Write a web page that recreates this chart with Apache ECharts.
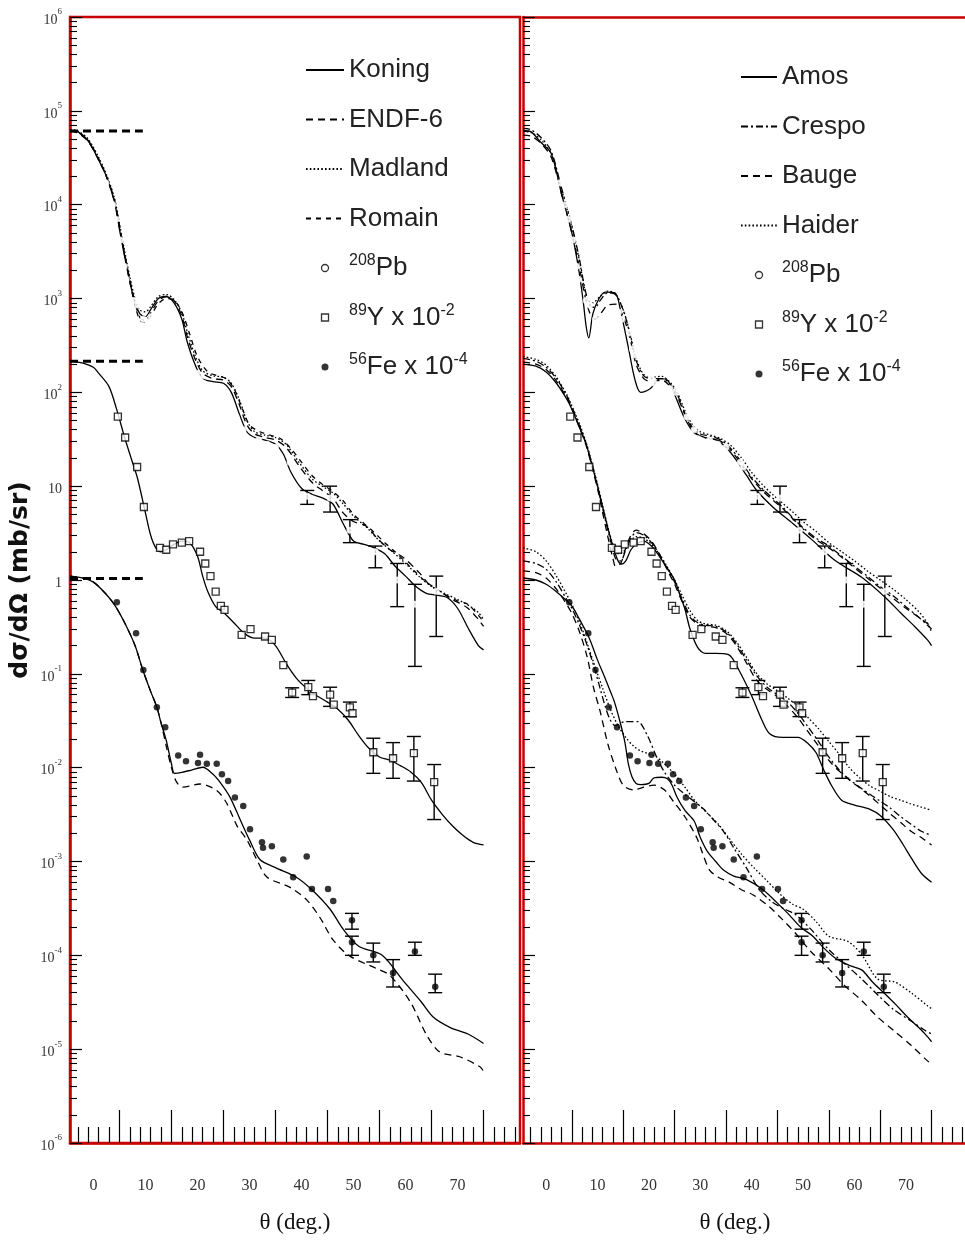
<!DOCTYPE html>
<html><head><meta charset="utf-8">
<script src="https://cdn.jsdelivr.net/npm/echarts@6/dist/echarts.min.js"></script>
<style>html,body{margin:0;padding:0;background:#fff}#c{width:965px;height:1240px}</style>
</head><body><div id="c"></div>
<script>
// ---------- tick / label values ----------
const thetaLabels = [0,10,20,30,40,50,60,70];
const thetaMajorTicks = [5,15,25,35,45,55,65,75];
const thetaMinorTicks = [-3,-1,1,3,7,9,11,13,17,19,21,23,27,29,31,33,37,39,41,43,47,49,51,53,57,59,61,63,67,69,71,73,77,79,81];
const decadeExponents = [-6,-5,-4,-3,-2,-1,0,1,2,3,4,5,6];

// ---------- LEFT PANEL: 208Pb curves ----------
const pbKoning = [[-4.5,6.2e4],[-3,6.0e4],[-1,4.8e4],[1,3.0e4],[2.5,2.0e4],[4,1.1e4],[5,5.5e3],[6,2.8e3],[7,1.5e3],[8,900],[9,680],[10,640],[11,760],[12.5,1000],[14,1050],[15.5,900],[17,600],[18,350],[19.5,200],[21,140],[23,130],[25,125],[26.5,100],[28,60],[29.5,38],[31,33],[33,31],[35,28],[36.5,22],[38,14],[40,9.5],[42,8.2],[44,7.5],[46,6.5],[48,4],[50,2.6],[52,2.4],[54,2.2],[56,1.9],[58,1.4],[60,1.1],[62,0.85],[64,0.72],[66,0.69],[68,0.65],[70,0.5],[72,0.31],[74,0.2],[75,0.18]];
const pbEndf = [[-4.5,6.0e4],[-3,5.8e4],[-1,4.7e4],[1,3.0e4],[2.5,2.0e4],[4,1.15e4],[5,6.0e3],[6,3.0e3],[7,1.6e3],[8,900],[9,620],[10,580],[11,700],[12.5,950],[14,1050],[15.5,950],[17,650],[18,400],[19.5,230],[21,160],[23,140],[25,135],[26.5,115],[28,75],[29.5,45],[31,36],[33,33],[35,31],[37,26],[39.7,16],[42,11],[44,9],[46,7.5],[48,5.2],[50,4.2],[52.6,3.7],[54.5,2.8],[57,2.1],[59.5,1.75],[62.8,1.17],[64.5,0.9],[66.6,0.75],[69,0.62],[71.8,0.51],[74,0.38],[75,0.32]];
const pbMadland = [[-4.5,6.3e4],[-3,6.1e4],[-1,5.0e4],[1,3.2e4],[2.5,2.1e4],[4,1.2e4],[5,6.3e3],[6,3.2e3],[7,1.7e3],[8,1000],[9,750],[10,720],[11,820],[12.5,1050],[14,1100],[15.5,980],[17,700],[18,450],[19.5,250],[21,170],[23,150],[25,145],[26.5,125],[28,85],[29.5,50],[31,38],[33,35],[35,33],[37,28],[39.5,18],[42,12],[44,10],[46,8.5],[48,6.5],[50,4.8],[52.6,3.6],[55,2.6],[57.5,2.0],[60,1.5],[62.5,1.1],[65,0.85],[67.5,0.72],[70,0.62],[72.5,0.52],[74,0.45],[75,0.38]];
const pbRomain = [[-4.5,6.1e4],[-3,5.9e4],[-1,4.8e4],[1,3.1e4],[2.5,2.0e4],[4,1.1e4],[5,5.7e3],[6,2.9e3],[7,1.5e3],[8,850],[9,580],[10,560],[11,650],[12.5,880],[14,1000],[15.5,960],[17,720],[18.5,420],[20,240],[22,165],[24,150],[25.5,140],[27,110],[28.5,70],[30,45],[32,38],[34,35],[36,32],[38,25],[40,18],[42,13],[44,10.5],[46,8.8],[48,7.0],[50,5.0],[52,4.0],[54,3.2],[56,2.5],[58,2.0],[60,1.55],[62,1.2],[64,0.95],[66,0.8],[68,0.68],[70,0.6],[72,0.55],[74,0.42],[75,0.36]];
// LEFT: 89Y x 1e-2 and 56Fe x 1e-4 curves
const yKoning = [[-4.5,215],[-2,205],[0,185],[1,160],[3,115],[4.5,65],[6,33],[7.5,18],[8.5,12],[10,5.2],[11,3.0],[12,2.2],[13,2.0],[14,2.1],[15.5,2.4],[17,2.6],[18.5,2.5],[20,1.8],[21,1.1],[22,0.75],[23.5,0.52],[25,0.45],[27,0.35],[29,0.27],[31,0.24],[33,0.24],[35,0.2],[37,0.13],[39,0.09],[41,0.07],[43,0.058],[45,0.05],[47,0.042],[49,0.032],[51,0.022],[53,0.016],[55,0.013],[57,0.012],[59,0.0105],[61,0.009],[63,0.007],[65,0.0045],[67,0.0032],[69,0.0024],[71,0.0019],[73,0.0016],[75,0.0015]];
const feKoning = [[-4.5,1.1],[-2,1.05],[0,0.95],[2,0.75],[4,0.55],[6,0.35],[8,0.2],[9.5,0.11],[11,0.065],[12.2,0.044],[13,0.03],[14,0.0195],[15,0.011],[15.6,0.0087],[17,0.0089],[19,0.0095],[21,0.0101],[23,0.0085],[24.5,0.0068],[26.3,0.0048],[28.2,0.0028],[30,0.0017],[32,0.00105],[35,0.00086],[39,0.00068],[42,0.0005],[45.5,0.00031],[48,0.00019],[51,0.000125],[55.5,0.0001],[59.5,0.000054],[63,0.000032],[65.3,0.000022],[68.6,0.000017],[72,0.0000145],[75,0.0000115]];
const feEndf = [[-4.5,1.1],[-2,1.05],[0,0.95],[2,0.75],[4,0.55],[6,0.35],[8,0.2],[9.5,0.11],[11,0.065],[12.2,0.044],[13,0.03],[14,0.017],[15,0.01],[16,0.007],[17.2,0.0062],[20.5,0.0067],[23.7,0.0057],[25.6,0.0042],[27.6,0.0024],[29.5,0.0017],[31.4,0.00105],[33.4,0.00068],[37.8,0.00053],[41,0.00039],[43.6,0.00025],[46.1,0.000145],[49.3,0.000098],[54.5,0.000072],[57,0.000061],[60.9,0.000032],[64.1,0.000014],[66.6,0.0000093],[70.4,0.0000083],[74.3,0.0000065],[75,0.0000058]];
// LEFT: reference levels (thick dashes)
const levelPb = [[-4.5,6.1e4],[9.5,6.1e4]];
const levelY = [[-4.5,215],[9.5,215]];
const levelFe = [[-4.5,1.04],[9.5,1.04]];

// ---------- RIGHT PANEL curves ----------
const pbAmos = [[-4.5,6.2e4],[-3,6.0e4],[-1,4.6e4],[1,3.5e4],[3,1.3e4],[5,5e3],[6.3,2.1e3],[7.2,950],[7.8,500],[8.3,380],[9.1,690],[10.3,1000],[11.5,1170],[13.4,1150],[14.6,690],[16,300],[17.3,135],[18.4,100],[20.3,110],[22.2,140],[23.6,135],[24.9,98],[26.8,55],[28.8,37],[31,33],[33.2,31],[35,26],[37,19],[39,13],[40.9,9.1],[44.1,6],[48,4],[51.8,2.66],[56.3,1.6],[61.4,1.07],[65.9,0.66],[69.1,0.44],[71.7,0.32],[74.2,0.23],[75,0.2]];
const pbCrespo = [[-4.5,6.5e4],[-3,6.3e4],[-1,5.2e4],[1,3.7e4],[3,1.5e4],[5,6.0e3],[6.5,2.6e3],[7.5,1.3e3],[8.5,850],[9.5,800],[10.5,950],[12,1150],[13.5,1100],[15,750],[16.3,420],[17.5,220],[19,150],[20.5,140],[22.5,140],[24,125],[25.5,95],[27,60],[28.5,42],[30,36],[32,34],[34,31],[36,25],[38,18],[40,12.5],[42,9.5],[44,7.5],[46,6],[48,4.6],[50,3.6],[52.5,2.8],[55,2.3],[57.5,1.8],[60,1.4],[62.5,1.1],[65,0.85],[67.5,0.68],[70,0.52],[72.5,0.4],[75,0.3]];
const pbBauge = [[-4.5,5.5e4],[-3,5.4e4],[-1,4.5e4],[1,3.2e4],[3,1.3e4],[5,5.0e3],[6.5,2.1e3],[7.5,1.1e3],[8.5,700],[9.5,600],[10.5,680],[12,850],[13.5,870],[15,640],[16.3,380],[17.5,200],[19,140],[20.5,130],[22.5,135],[24,118],[25.5,90],[27,58],[28.5,40],[30,34],[32,32],[34,30],[36,24],[38,17],[40,12],[42,9],[44,7.2],[46,5.8],[48,4.5],[50,3.5],[52.5,2.7],[55,2.2],[57.5,1.75],[60,1.35],[62.5,1.05],[65,0.82],[67.5,0.64],[70,0.5],[72.5,0.4],[75,0.32]];
const pbHaider = [[-4.5,6.0e4],[-3,5.9e4],[-1,4.9e4],[1,3.5e4],[3,1.45e4],[5,5.8e3],[6.5,2.5e3],[7.5,1.25e3],[8.2,950],[9,900],[10.5,1050],[12,1200],[13.5,1120],[15,760],[16.3,430],[17.5,230],[19,155],[20.5,145],[22.5,148],[24,130],[25.5,100],[27,64],[28.5,45],[30,38],[32,35],[34,32],[36,27],[38,20],[40,14],[42,10.5],[44,8.2],[46,6.6],[48,5.3],[50,4.2],[52.5,3.3],[55,2.5],[57.5,2.0],[60,1.6],[62.5,1.25],[65,1.0],[67.5,0.8],[70,0.62],[72.5,0.46],[74,0.36],[75,0.28]];
const yAmos = [[-4.5,200],[-2,190],[0,165],[2,125],[4,85],[5,66],[6.5,42],[7.8,28],[9,16],[10,10],[11,6],[12,3.6],[13,2.3],[14,1.6],[14.7,1.48],[15.5,1.6],[16.5,2.1],[17.5,2.4],[19,2.6],[20.5,2.3],[22,1.8],[23.5,1.35],[25,1.0],[26,0.7],[27,0.49],[28,0.3],[29.5,0.19],[31,0.165],[33,0.165],[35.5,0.16],[37.5,0.11],[40,0.058],[42,0.032],[43.5,0.023],[46,0.021],[49,0.021],[51,0.018],[52.5,0.0145],[54,0.0095],[55.5,0.0065],[57.5,0.0045],[60,0.004],[63,0.0036],[65,0.0031],[67.5,0.0022],[69.5,0.0015],[71,0.0011],[73,0.00075],[75,0.0006]];
const yCrespo = [[-4.5,230],[-2,215],[0,185],[2,140],[4,92],[5,70],[6.5,44],[7.8,28],[9,16.5],[10,10],[11,5.8],[12,3.4],[13,2.1],[13.5,1.7],[14.5,1.6],[15.5,2.1],[16.5,2.8],[17.5,3.2],[19,3.0],[20.5,2.5],[22,1.9],[23.5,1.35],[25,0.95],[26.5,0.62],[28,0.42],[29.5,0.35],[31,0.33],[33,0.32],[35,0.28],[37,0.21],[39,0.14],[41,0.095],[43,0.072],[45,0.06],[47,0.05],[49,0.038],[51,0.027],[53,0.019],[55,0.013],[57,0.0095],[59,0.0075],[61,0.0062],[63,0.0052],[65,0.0044],[67,0.0037],[69,0.003],[71,0.0025],[73,0.0021],[75,0.0019]];
const yBauge = [[-4.5,210],[-2,200],[0,175],[2,132],[4,88],[5,68],[6.5,42],[7.8,27],[9,15.5],[10,9.4],[11,5.2],[12,2.9],[13,1.7],[13.5,1.4],[14.5,1.5],[15.5,2.2],[16.5,3.0],[17.5,3.4],[19,3.1],[20.5,2.6],[22,1.9],[23.5,1.3],[25,0.9],[26.5,0.58],[28,0.4],[29.5,0.34],[31,0.32],[33,0.31],[35,0.27],[37,0.2],[39,0.13],[41,0.085],[43,0.068],[45,0.057],[47,0.045],[49,0.034],[51,0.024],[53,0.017],[55,0.012],[57,0.0092],[59,0.0074],[61,0.0061],[63,0.005],[65,0.004],[67,0.0032],[69,0.0026],[71,0.0021],[73,0.0018],[75,0.0015]];
const yHaider = [[-4.5,240],[-2,225],[0,195],[2,145],[4,95],[5,72],[6.5,46],[7.8,29],[9,17],[10,10.5],[11,6.2],[12,3.7],[13,2.4],[14,1.9],[15,2.0],[16,2.4],[17.5,2.9],[19,2.8],[20.5,2.4],[22,1.9],[23.5,1.4],[25,1.0],[26.5,0.68],[28,0.47],[29.5,0.37],[31,0.34],[33,0.33],[35,0.29],[37,0.22],[39,0.15],[41,0.1],[43,0.078],[45,0.066],[47,0.055],[49,0.045],[51,0.034],[53,0.026],[55,0.019],[57,0.014],[59,0.01],[61,0.0078],[63,0.0064],[65,0.0056],[67,0.0049],[69,0.0045],[71,0.0041],[73,0.0038],[75,0.0035]];
const feAmos = [[-4.5,1.05],[-2,1.0],[0,0.9],[2,0.75],[4,0.6],[5.1,0.52],[6.5,0.38],[8.4,0.24],[10,0.14],[11.3,0.095],[12.5,0.065],[13.3,0.05],[14.3,0.032],[15.3,0.019],[16,0.011],[16.7,0.008],[17.5,0.0068],[18.5,0.0066],[20,0.0068],[21,0.0078],[22.5,0.0079],[23.6,0.0076],[24.5,0.0065],[25.5,0.0048],[27,0.0035],[28.8,0.0027],[30,0.0018],[31.3,0.0013],[33,0.001],[34.5,0.00081],[36.5,0.0007],[39,0.00064],[42.2,0.0005],[45,0.00036],[47.3,0.00027],[49.5,0.0002],[51.9,0.00016],[54,0.00012],[56.3,0.000093],[59,0.000078],[61.4,0.00007],[63.5,0.000052],[65.9,0.000039],[68,0.00003],[70.3,0.000022],[72.5,0.000017],[74.2,0.0000136],[75,0.000012]];
const feCrespo = [[-4.5,1.6],[-2,1.5],[0,1.3],[2,0.95],[4,0.62],[5,0.5],[6.5,0.33],[8,0.2],[9.5,0.11],[10.5,0.07],[11.5,0.045],[12.5,0.032],[13.5,0.028],[15.3,0.031],[17.8,0.031],[19.7,0.022],[21.5,0.013],[23,0.009],[25,0.0065],[27,0.0052],[29,0.0043],[30.7,0.0036],[32.5,0.0028],[34.5,0.0021],[36.5,0.0014],[39,0.00085],[41.5,0.0005],[44,0.00037],[46.5,0.00031],[48.6,0.00027],[51.5,0.00019],[55,0.000115],[58,0.000082],[61.4,0.000056],[64.5,0.000038],[67.8,0.000026],[71,0.00002],[73.6,0.000016],[75,0.0000145]];
const feBauge = [[-4.5,1.25],[-2,1.2],[0,1.05],[2,0.8],[4,0.55],[5,0.44],[6.5,0.28],[8,0.15],[9.2,0.072],[10.5,0.04],[12,0.018],[13.5,0.01],[15,0.0065],[17,0.0058],[19,0.0062],[21,0.0065],[23,0.0058],[25,0.0042],[27,0.003],[29.3,0.0018],[30.5,0.0012],[31.8,0.00081],[33.5,0.00068],[35.7,0.0006],[38,0.0005],[40.3,0.00044],[43.4,0.00033],[46,0.00024],[48.6,0.00017],[51.5,0.00011],[55,0.000072],[58,0.000048],[61.4,0.000033],[64.5,0.000022],[67.8,0.0000155],[71,0.000011],[74.2,0.0000075],[75,0.000007]];
const feHaider = [[-4.5,2.2],[-2,2.0],[0,1.6],[2,1.1],[4,0.7],[5,0.55],[6.5,0.36],[8,0.21],[9.5,0.12],[11,0.07],[12.5,0.042],[14,0.028],[15.5,0.021],[17,0.017],[18.5,0.015],[20,0.014],[21.5,0.013],[23,0.011],[25,0.0085],[27,0.0062],[29,0.0044],[31.3,0.0033],[33.5,0.0025],[35.5,0.0018],[38,0.0012],[40.5,0.00085],[43,0.00062],[45.5,0.00045],[48,0.00035],[50,0.00031],[52.5,0.00023],[55,0.00016],[58.8,0.00014],[61.5,0.0001],[64.5,0.000056],[67.8,0.000052],[71,0.00004],[74.2,0.000029],[75,0.000027]];

// ---------- experimental data [theta, value] ----------
const pbData = [[2.4,1.7e4],[3.7,1.0e4],[4.3,7.0e3],[5.2,4.2e3],[5.9,2.2e3],[6.3,1.6e3],[7.8,950],[8.5,850],[9.6,600],[11.1,640],[12.5,700],[13.4,780],[14.1,720],[14.7,600],[16.3,430],[16.8,290],[17.4,250],[19.9,160],[20.5,140],[21.1,125],[21.8,108],[24.1,110],[25.1,100],[27.4,55],[28.8,40],[29.5,32],[31.8,31],[33.4,28],[35,26],[37.8,18],[38.4,16],[41.1,7.8],[45.5,7.5],[49.3,3.4],[54.2,2.0],[58.4,1.0],[61.8,0.55],[65.9,0.76]];
// error bars [theta, value, low, high]
const pbErr = [[41.1,7.8,6.4,9.0],[45.5,7.5,5.3,10],[49.3,3.4,2.5,4.4],[54.2,2.0,1.35,2.3],[58.4,1.0,0.52,1.5],[61.8,0.55,0.12,0.9],[65.9,0.76,0.25,1.1]];
const yData = [[4.7,55],[6.1,33],[8.4,16],[9.7,6],[12.8,2.2],[14,2.1],[15.3,2.4],[17,2.5],[18.4,2.6],[20.5,2.0],[21.5,1.5],[22.5,1.1],[23.5,0.75],[24.5,0.53],[25.2,0.48],[28.5,0.26],[30.2,0.3],[33,0.25],[34.3,0.23],[36.5,0.124],[38.2,0.063],[41.3,0.072],[42.2,0.058],[45.5,0.06],[46.2,0.047],[49.3,0.044],[49.8,0.038],[53.8,0.0146],[57.6,0.0126],[61.6,0.0143],[65.5,0.007]];
const yErr = [[38.2,0.063,0.056,0.071],[41.3,0.072,0.06,0.085],[45.5,0.06,0.045,0.072],[49.3,0.044,0.035,0.05],[53.8,0.0146,0.0087,0.0206],[57.6,0.0126,0.0077,0.0185],[61.6,0.0143,0.0072,0.0215],[65.5,0.007,0.0028,0.0108]];
const feData = [[4.5,0.58],[8.2,0.27],[9.6,0.11],[12.2,0.044],[13.8,0.027],[16.3,0.0135],[17.8,0.0117],[20.1,0.0112],[20.5,0.0137],[21.8,0.011],[23.7,0.011],[24.7,0.0085],[25.9,0.0072],[27.2,0.0048],[28.8,0.0039],[30.1,0.0022],[32.4,0.0016],[32.6,0.0014],[34.3,0.00145],[36.5,0.00105],[38.4,0.00068],[41,0.00113],[42,0.00051],[45.1,0.00051],[46.1,0.00038],[49.7,0.000236],[49.7,0.000138],[53.8,0.0001],[57.6,0.000065],[61.8,0.00011],[65.7,0.0000464]];
const feErr = [[49.7,0.000236,0.00019,0.00028],[49.7,0.000138,0.0001,0.00016],[53.8,0.0001,0.000085,0.000135],[57.6,0.000065,0.000046,0.00009],[61.8,0.00011,0.0001,0.000138],[65.7,0.0000464,0.00004,0.000063]];

// ---------- build chart ----------
const RED = '#c80000';
const SERIF = 'Liberation Serif, Times New Roman, serif';
const SANS = 'Liberation Sans, Arial, sans-serif';
const minorLogTicks = [];
decadeExponents.slice(0, -1).forEach(n => { for (let k = 2; k <= 9; k++) minorLogTicks.push(n + Math.log10(k)); });

const DASH = { solid: 'solid', dashed: [7, 5], dotted: [1.6, 2.2], romain: [5, 5], dashdot: [7, 3, 2, 3] };

function line(name, data, panel, dash, width) {
  return {
    type: 'line', name, data, xAxisIndex: panel ? 3 : 0, yAxisIndex: panel ? 3 : 0,
    symbol: 'none', showSymbol: false, smooth: 0.3, clip: true, silent: true,
    itemStyle: { color: '#000', opacity: 0 },
    lineStyle: { color: '#000', width: width || 1.3, type: dash }, z: 3
  };
}
function points(name, data, panel, symbol, size, filled) {
  return {
    type: 'scatter', name, data, xAxisIndex: panel ? 3 : 0, yAxisIndex: panel ? 3 : 0,
    symbol, symbolSize: size, silent: true, z: 5,
    itemStyle: filled ? { color: '#000' } : { color: '#fff', borderColor: '#000', borderWidth: 1.3 }
  };
}
function errBars(name, data, panel) {
  return {
    type: 'custom', name, data, xAxisIndex: panel ? 3 : 0, yAxisIndex: panel ? 3 : 0,
    silent: true, z: 4, encode: { x: 0, y: 1 },
    renderItem: function (params, api) {
      const lo = api.coord([api.value(0), api.value(2)]);
      const hi = api.coord([api.value(0), api.value(3)]);
      const w = 7, st = { stroke: '#000', lineWidth: 1.4 };
      return { type: 'group', children: [
        { type: 'line', shape: { x1: lo[0], y1: lo[1], x2: hi[0], y2: hi[1] }, style: st },
        { type: 'line', shape: { x1: lo[0] - w, y1: lo[1], x2: lo[0] + w, y2: lo[1] }, style: st },
        { type: 'line', shape: { x1: hi[0] - w, y1: hi[1], x2: hi[0] + w, y2: hi[1] }, style: st }
      ]};
    }
  };
}

const legendText = { '208Pb': '{sup|208}Pb', '89Y': '{sup|89}Y x 10{sup|-2}', '56Fe': '{sup|56}Fe x 10{sup|-4}' };
function legendItem(n) {
  if (n === '208Pb') return { name: n, icon: 'circle', itemStyle: { color: '#fff', borderColor: '#000', borderWidth: 1.3 } };
  if (n === '89Y') return { name: n, icon: 'path://M0,0L10,0L10,10L0,10Z', itemStyle: { color: '#fff', borderColor: '#000', borderWidth: 1.3 } };
  if (n === '56Fe') return { name: n, icon: 'circle', itemStyle: { color: '#000', borderWidth: 0 } };
  return { name: n, itemStyle: { opacity: 0 } };
}
function legend(left, top, names, width) {
  return {
    orient: 'vertical', left, top, padding: 0, itemWidth: width, itemHeight: 7, itemGap: 19.5,
    selectedMode: false, data: names.map(legendItem),
    formatter: n => legendText[n] || n,
    textStyle: { fontFamily: SANS, fontSize: 26, color: '#222', lineHeight: 30,
      rich: { sup: { fontFamily: SANS, fontSize: 16, color: '#222', lineHeight: 16, padding: [0, 0, 14, 0] } } }
  };
}

function xAxes(grid, min, max, namePad, withTop) {
  return [
    { gridIndex: grid, type: 'value', min, max, position: 'bottom',
      axisLine: { show: true, onZero: false, lineStyle: { color: RED, width: 2.5 } },
      axisTick: { show: true, inside: true, length: 33, customValues: thetaMajorTicks, lineStyle: { color: '#000', width: 1.2 } },
      axisLabel: { show: true, customValues: thetaLabels, margin: 35, fontFamily: SERIF, fontSize: 16, color: '#333' },
      splitLine: { show: false },
      name: 'θ (deg.)', nameLocation: 'middle', nameGap: 68,
      nameTextStyle: { fontFamily: SERIF, fontSize: 23, color: '#111', padding: namePad } },
    { gridIndex: grid, type: 'value', min, max, position: 'bottom',
      axisLine: { show: false, onZero: false },
      axisTick: { show: true, inside: true, length: 16, customValues: thetaMinorTicks, lineStyle: { color: '#000', width: 1.2 } },
      axisLabel: { show: false }, splitLine: { show: false } },
    { gridIndex: grid, type: 'value', min, max, position: 'top',
      axisLine: { show: withTop, onZero: false, lineStyle: { color: RED, width: 2.5 } },
      axisTick: { show: false }, axisLabel: { show: false }, splitLine: { show: false } }
  ];
}
function yAxes(grid, showLabels) {
  return [
    { gridIndex: grid, type: 'log', logBase: 10, min: 1e-6, max: 1e6, show: false },
    { gridIndex: grid, type: 'value', min: -6, max: 6, interval: 1, position: 'left',
      axisLine: { show: true, onZero: false, lineStyle: { color: RED, width: 2.5 } },
      axisTick: { show: true, inside: true, length: 12, lineStyle: { color: '#000', width: 1.2 } },
      axisLabel: { show: showLabels, margin: 8, fontFamily: SERIF, fontSize: 14, color: '#333',
        formatter: v => v === 0 ? '{b|1}' : v === 1 ? '{b|10}' : '{b|10}{s|' + v + '}',
        rich: { b: { fontFamily: SERIF, fontSize: 14, color: '#333', padding: [6, 0, 0, 0] },
                s: { fontFamily: SERIF, fontSize: 9, color: '#333', padding: [0, 0, 10, 0] } } },
      splitLine: { show: false },
      name: showLabels ? 'dσ/dΩ (mb/sr)' : '', nameLocation: 'middle', nameGap: 37,
      nameTextStyle: { fontFamily: 'DejaVu Sans, sans-serif', fontSize: 25, fontWeight: 'bold', color: '#111' } },
    { gridIndex: grid, type: 'value', min: -6, max: 6, position: 'left',
      axisLine: { show: false, onZero: false },
      axisTick: { show: true, inside: true, length: 7, customValues: minorLogTicks, lineStyle: { color: '#000', width: 1.1 } },
      axisLabel: { show: false }, splitLine: { show: false } }
  ];
}

const option = {
  animation: false,
  backgroundColor: '#fff',
  grid: [
    { left: 70, top: 17, width: 450, height: 1126, show: true, borderColor: RED, borderWidth: 2.5, containLabel: false },
    { left: 523, top: 17, width: 442, height: 1126, show: false, containLabel: false }
  ],
  legend: [
    legend(305, 55, ['Koning', 'ENDF-6', 'Madland', 'Romain', '208Pb', '89Y', '56Fe'], 38),
    legend(740, 62, ['Amos', 'Crespo', 'Bauge', 'Haider', '208Pb', '89Y', '56Fe'], 36)
  ],
  xAxis: [...xAxes(0, -4.5, 82, [0, 0, 0, 0], false), ...xAxes(1, -4.5, 81.5, [0, 18, 0, 0], true)],
  yAxis: [...yAxes(0, true), ...yAxes(1, false)],
  series: [
    // left panel
    line('Koning', pbKoning, 0, DASH.solid), line('Koning', yKoning, 0, DASH.solid), line('Koning', feKoning, 0, DASH.solid),
    line('ENDF-6', pbEndf, 0, DASH.dashed), line('ENDF-6', feEndf, 0, DASH.dashed),
    line('Madland', pbMadland, 0, DASH.dotted),
    line('Romain', pbRomain, 0, DASH.romain),
    { ...line('level', levelPb, 0, [8, 5], 3), smooth: false },
    { ...line('level', levelY, 0, [8, 5], 3), smooth: false },
    { ...line('level', levelFe, 0, [8, 5], 3), smooth: false },
    errBars('Pb err', pbErr, 0), errBars('Y err', yErr, 0), errBars('Fe err', feErr, 0),
    points('208Pb', pbData, 0, 'emptyCircle', 5, false),
    points('89Y', yData, 0, 'rect', 7, false),
    points('56Fe', feData, 0, 'circle', 6.5, true),
    // right panel
    line('Amos', pbAmos, 1, DASH.solid), line('Amos', yAmos, 1, DASH.solid), line('Amos', feAmos, 1, DASH.solid),
    line('Crespo', pbCrespo, 1, DASH.dashdot), line('Crespo', yCrespo, 1, DASH.dashdot), line('Crespo', feCrespo, 1, DASH.dashdot),
    line('Bauge', pbBauge, 1, DASH.dashed), line('Bauge', yBauge, 1, DASH.dashed), line('Bauge', feBauge, 1, DASH.dashed),
    line('Haider', pbHaider, 1, DASH.dotted), line('Haider', yHaider, 1, DASH.dotted), line('Haider', feHaider, 1, DASH.dotted),
    errBars('Pb err', pbErr, 1), errBars('Y err', yErr, 1), errBars('Fe err', feErr, 1),
    points('208Pb', pbData, 1, 'emptyCircle', 5, false),
    points('89Y', yData, 1, 'rect', 7, false),
    points('56Fe', feData, 1, 'circle', 6.5, true)
  ]
};
const chart = echarts.init(document.getElementById('c'), null, { renderer: 'canvas' });
chart.setOption(option);
</script></body></html>
